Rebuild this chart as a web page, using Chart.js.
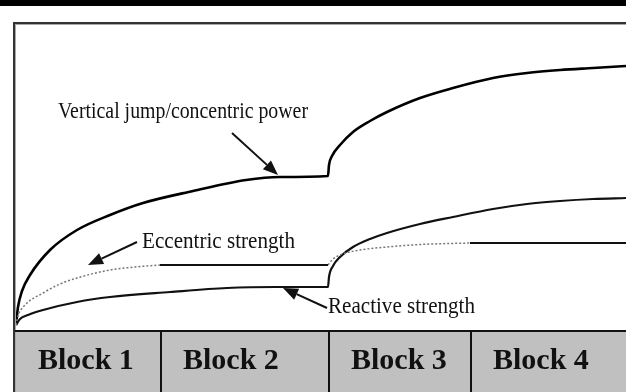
<!DOCTYPE html>
<html>
<head>
<meta charset="utf-8">
<script src="https://cdn.jsdelivr.net/npm/chart.js@4"></script>
<style>
  html, body { margin: 0; padding: 0; background: #fff; }
  canvas { display: block; }
</style>
</head>
<body>
<canvas id="phaseChart" width="626" height="392"></canvas>
<script>
// training blocks (x units) and their labels
const blockNames = ['Block 1', 'Block 2', 'Block 3', 'Block 4'];
const blockEdges = [0, 145, 313, 455, 610];

// [x, y] points of each quality across the blocks
const jumpPower = [
  [0, 6], [2, 24], [6, 40], [14, 56], [34, 81], [61, 101], [94, 116], [127, 128],
  [177, 140], [230, 151], [264, 154], [312, 155],
  [313, 166], [316, 175], [324, 186], [337, 199], [354, 210], [371, 219], [404, 233],
  [437, 243], [477, 253], [511, 258], [544, 261], [577, 263], [610, 265]
];
const eccentricRise1 = [
  [0, 6], [2, 15], [8, 25], [27, 38], [44, 47], [61, 53], [94, 61], [119, 64], [144, 66]
];
const eccentricHold1 = [[144, 66], [312, 66]];
const eccentricRise2 = [
  [312, 66], [316, 71], [324, 76], [344, 81], [371, 84], [404, 86.5], [454, 88]
];
const eccentricHold2 = [[454, 88], [610, 88]];
const reactive = [
  [0, 6], [4, 12], [12, 16], [27, 21], [61, 29], [94, 34], [154, 39], [211, 43],
  [260, 44], [312, 44], [313, 54], [317, 65], [324, 74], [337, 84], [354, 92],
  [371, 98], [404, 107], [437, 114], [477, 122], [511, 127], [544, 130], [577, 132], [610, 133]
];

// callouts: text, text anchor, arrow tail, arrow tip
const callouts = [
  { text: 'Vertical jump/concentric power', at: [42, 213], width: 250, tail: [216, 198], tip: [262, 156] },
  { text: 'Eccentric strength', at: [126, 83], width: 153, tail: [121, 89], tip: [72, 66] },
  { text: 'Reactive strength', at: [312, 18], width: 147, tail: [311, 23], tip: [267, 43] }
];

function toPoints(arr) {
  return arr.map(p => ({ x: p[0], y: p[1] }));
}

function lineSet(arr, width, color, dash) {
  return {
    data: toPoints(arr),
    borderColor: color,
    borderWidth: width,
    borderDash: dash || [],
    pointRadius: 0,
    fill: false,
    cubicInterpolationMode: 'monotone'
  };
}

const framePlugin = {
  id: 'frame',
  beforeDraw(chart) {
    const ctx = chart.ctx;
    ctx.save();
    ctx.fillStyle = '#fff';
    ctx.fillRect(0, 0, chart.width, chart.height);
    // dark strip along the top
    ctx.fillStyle = '#000';
    ctx.fillRect(0, 0, chart.width, 6);
    // panel border, top and left
    ctx.fillStyle = '#333';
    ctx.fillRect(13, 22, chart.width - 13, 2);
    ctx.fillRect(13, 22, 2, chart.height - 22);
    ctx.fillStyle = '#aaa';
    ctx.fillRect(15, 24, chart.width - 15, 1);
    ctx.fillRect(15, 24, 1, chart.height - 24);
    ctx.restore();
  },
  afterDraw(chart) {
    const ctx = chart.ctx;
    const xs = chart.scales.x;
    const ys = chart.scales.y;
    const base = chart.chartArea.bottom;
    ctx.save();

    // grey band with the block names
    ctx.fillStyle = '#c0c0c0';
    ctx.fillRect(16, base, chart.width - 16, chart.height - base);
    ctx.fillStyle = '#111';
    ctx.fillRect(15, base - 1, chart.width - 15, 2);
    for (let i = 1; i < blockEdges.length - 1; i++) {
      const bx = Math.round(xs.getPixelForValue(blockEdges[i]));
      ctx.fillRect(bx - 1, base, 2, chart.height - base);
    }
    ctx.font = 'bold 30px "Liberation Serif", "Times New Roman", serif';
    ctx.textBaseline = 'alphabetic';
    ctx.textAlign = 'left';
    blockNames.forEach((name, i) => {
      const bx = xs.getPixelForValue(blockEdges[i]);
      ctx.fillText(name, bx + 22, base + 38, 100);
    });

    // callout text and arrows
    ctx.font = '23px "Liberation Serif", "Times New Roman", serif';
    ctx.fillStyle = '#111';
    ctx.strokeStyle = '#111';
    ctx.lineWidth = 2;
    callouts.forEach(c => {
      ctx.fillText(c.text, xs.getPixelForValue(c.at[0]), ys.getPixelForValue(c.at[1]), c.width);
      const x0 = xs.getPixelForValue(c.tail[0]), y0 = ys.getPixelForValue(c.tail[1]);
      const x1 = xs.getPixelForValue(c.tip[0]), y1 = ys.getPixelForValue(c.tip[1]);
      const ang = Math.atan2(y1 - y0, x1 - x0);
      const len = 15, half = 6;
      const bxp = x1 - len * Math.cos(ang), byp = y1 - len * Math.sin(ang);
      ctx.beginPath();
      ctx.moveTo(x0, y0);
      ctx.lineTo(bxp, byp);
      ctx.stroke();
      ctx.beginPath();
      ctx.moveTo(x1, y1);
      ctx.lineTo(bxp + half * Math.sin(ang), byp - half * Math.cos(ang));
      ctx.lineTo(bxp - half * Math.sin(ang), byp + half * Math.cos(ang));
      ctx.closePath();
      ctx.fill();
    });
    ctx.restore();
  }
};

new Chart(document.getElementById('phaseChart').getContext('2d'), {
  type: 'line',
  data: {
    datasets: [
      lineSet(eccentricRise1, 1.5, '#777', [2, 2]),
      lineSet(eccentricHold1, 2, '#111'),
      lineSet(eccentricRise2, 1.5, '#777', [2, 2]),
      lineSet(eccentricHold2, 2, '#111'),
      lineSet(reactive, 2.2, '#111'),
      lineSet(jumpPower, 2.6, '#000')
    ]
  },
  options: {
    responsive: false,
    animation: false,
    layout: { padding: { left: 16, top: 24, right: 0, bottom: 61 } },
    scales: {
      x: { type: 'linear', min: 0, max: 610, display: false },
      y: { min: 0, max: 307, display: false }
    },
    plugins: {
      legend: { display: false },
      tooltip: { enabled: false }
    }
  },
  plugins: [framePlugin]
});
</script>
</body>
</html>
